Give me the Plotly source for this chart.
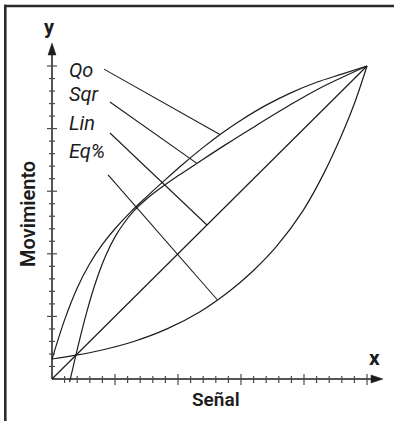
import plotly.graph_objects as go

# ---- characteristic curves: signal (%) -> travel (%) ----
lin_x = [0, 100]
lin_y = [0, 100]

qo_x = [0, 4, 8, 12, 16, 20, 25, 30, 36, 42, 48, 54, 60, 68, 76, 84, 92, 100]
qo_y = [6.3, 18.9, 29.1, 36.9, 43.0, 48.0, 53.4, 58.2, 63.7, 69.0, 74.0, 78.6, 82.7, 87.5, 91.5, 94.8, 97.4, 100]

sqr_x = [5.6, 8, 11, 14, 17, 20, 23, 26, 30, 35, 40, 46, 55, 65, 75, 85, 100]
sqr_y = [-1.0, 9.4, 21.3, 31.3, 39.3, 45.4, 50.0, 53.7, 57.5, 61.4, 64.9, 68.9, 74.8, 81.1, 87.2, 92.9, 100]

eq_x = [0, 7.6, 15.2, 25.7, 36.5, 47, 56.5, 63.8, 71.4, 79.7, 86.7, 92.4, 96, 100]
eq_y = [6.4, 7.6, 9.1, 11.9, 16.0, 21.5, 28.2, 34.5, 42.5, 53.8, 66.5, 79.0, 88.0, 100]

# ---- curve names and their pointer lines ----
labels = ["Qo", "Sqr", "Lin", "Eq%"]
ptr_start_x = [16.5, 18.4, 18.4, 17.8]
ptr_start_y = [99.0, 88.5, 78.6, 65.2]
ptr_end_x = [53.3, 46.0, 49.2, 52.4]
ptr_end_y = [78.1, 68.9, 49.2, 25.4]

# ---- axis ticks ----
axis_ticks = list(range(4, 101, 4))
major_ticks = [20, 40, 60, 80, 100]

x_title, y_title = "Señal", "Movimiento"

# ---- page geometry ----
W, H = 394, 421
OX, OY = 52, 379          # origin in page pixels
SX, SY = 3.15, 3.13        # pixels per unit
ML, MR, MT, MB = 43, 8, 42, 32

x_range = [(ML - OX) / SX, (W - MR - OX) / SX]
y_range = [(OY - (H - MB)) / SY, (OY - MT) / SY]


def paper_x(px):
    return (px - ML) / (W - ML - MR)


def paper_y(py):
    return (H - MB - py) / (H - MT - MB)


INK = "#1c1c1c"
TICK = "#4a4a4a"
FONT = "Roboto"

fig = go.Figure()

for xs, ys in [(lin_x, lin_y), (qo_x, qo_y), (sqr_x, sqr_y), (eq_x, eq_y)]:
    fig.add_trace(go.Scatter(
        x=xs, y=ys, mode="lines",
        line=dict(color=INK, width=1.2, shape="spline", smoothing=1.0),
        hoverinfo="skip", showlegend=False))

for x0, y0, x1, y1 in zip(ptr_start_x, ptr_start_y, ptr_end_x, ptr_end_y):
    fig.add_trace(go.Scatter(
        x=[x0, x1], y=[y0, y1], mode="lines",
        line=dict(color=INK, width=1.1),
        hoverinfo="skip", showlegend=False))

shapes = []

# axis lines
shapes.append(dict(type="line", xref="x", yref="y", x0=0, y0=0, x1=103, y1=0,
                   line=dict(color=INK, width=1.5)))
shapes.append(dict(type="line", xref="x", yref="y", x0=0, y0=0, x1=0, y1=105,
                   line=dict(color=INK, width=1.5)))

# arrow heads
x_tip = (383 - OX) / SX
y_tip = (OY - 43) / SY
shapes.append(dict(type="path", xref="x", yref="y", xsizemode="pixel", ysizemode="pixel",
                   xanchor=x_tip, yanchor=0, path="M 0 0 L -12 4 L -12 -4 Z",
                   fillcolor=INK, line=dict(color=INK, width=0.5)))
shapes.append(dict(type="path", xref="x", yref="y", xsizemode="pixel", ysizemode="pixel",
                   xanchor=0, yanchor=y_tip, path="M 0 0 L -4 -12 L 4 -12 Z",
                   fillcolor=INK, line=dict(color=INK, width=0.5)))

# tick marks crossing the axes
for t in axis_ticks:
    big = t in major_ticks
    shapes.append(dict(type="line", xref="x", yref="y", ysizemode="pixel", yanchor=0,
                       x0=t, x1=t, y0=-(6 if big else 4), y1=(5 if big else 3),
                       line=dict(color=TICK, width=1.2)))
    shapes.append(dict(type="line", xref="x", yref="y", xsizemode="pixel", xanchor=0,
                       y0=t, y1=t, x0=-(5 if big else 3), x1=(5 if big else 3),
                       line=dict(color=TICK, width=1.2)))

# frame along the top and left edges
shapes.append(dict(type="line", xref="paper", yref="paper",
                   x0=paper_x(4), x1=paper_x(W + 2), y0=paper_y(6), y1=paper_y(6),
                   line=dict(color="#2a2a2a", width=2.6)))
shapes.append(dict(type="line", xref="paper", yref="paper",
                   x0=paper_x(5.3), x1=paper_x(5.3), y0=paper_y(4.8), y1=paper_y(H + 2),
                   line=dict(color="#2a2a2a", width=2.6)))

annotations = []

# curve names
label_px = [(67, 70), (67, 94), (67, 123), (67, 151)]
for text, (lx, ly) in zip(labels, label_px):
    annotations.append(dict(xref="paper", yref="paper", x=paper_x(lx), y=paper_y(ly),
                            xanchor="left", yanchor="middle", text=text, showarrow=False,
                            font=dict(family=FONT, size=20, color=INK, style="italic")))

# axis letters and titles
annotations.append(dict(xref="paper", yref="paper", x=paper_x(49), y=paper_y(27),
                        text="y", showarrow=False, xanchor="center", yanchor="middle",
                        font=dict(family=FONT, size=20, color=INK, weight=700)))
annotations.append(dict(xref="paper", yref="paper", x=paper_x(374), y=paper_y(358),
                        text="x", showarrow=False, xanchor="center", yanchor="middle",
                        font=dict(family=FONT, size=21, color=INK, weight=700)))
annotations.append(dict(xref="paper", yref="paper", x=paper_x(216), y=paper_y(400),
                        text=x_title, showarrow=False, xanchor="center", yanchor="middle",
                        font=dict(family=FONT, size=19, color=INK, weight=600)))
annotations.append(dict(xref="paper", yref="paper", x=paper_x(28), y=paper_y(214),
                        text=y_title, showarrow=False, xanchor="center", yanchor="middle",
                        textangle=-90,
                        font=dict(family=FONT, size=20, color=INK, weight=600)))

axis_common = dict(showgrid=False, zeroline=False, showticklabels=False, ticks="",
                   showline=False, fixedrange=True)

fig.update_layout(
    width=W, height=H,
    margin=dict(l=ML, r=MR, t=MT, b=MB, pad=0),
    paper_bgcolor="white", plot_bgcolor="white",
    xaxis=dict(range=x_range, **axis_common),
    yaxis=dict(range=y_range, **axis_common),
    shapes=shapes, annotations=annotations,
    showlegend=False,
)

fig.write_html("out.html")
